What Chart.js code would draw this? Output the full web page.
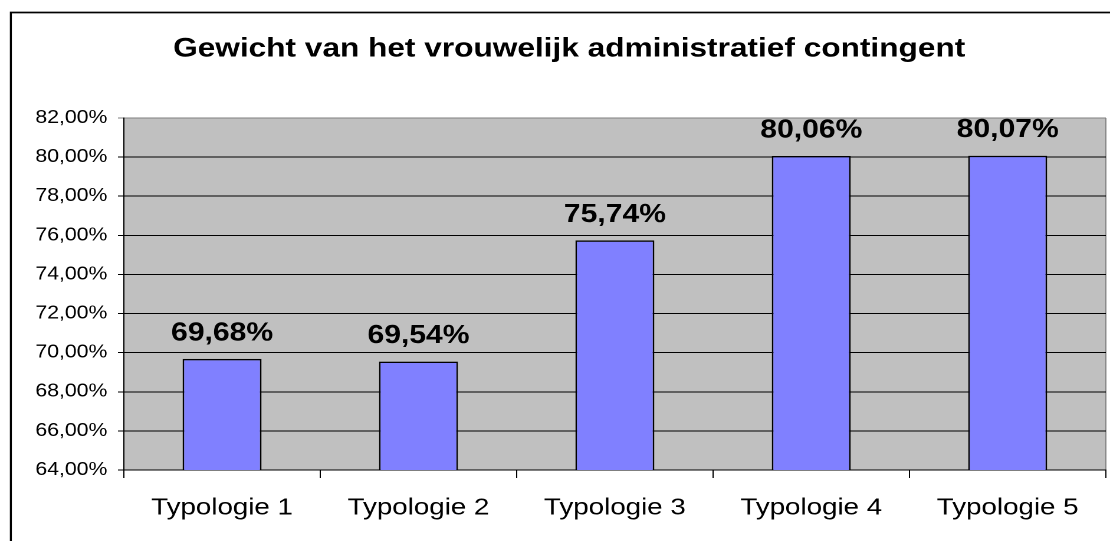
<!DOCTYPE html>
<html>
<head>
<meta charset="utf-8">
<title>Gewicht van het vrouwelijk administratief contingent</title>
<script src="https://cdn.jsdelivr.net/npm/chart.js@4/dist/chart.umd.min.js"></script>
<style>
    html, body { margin: 0; padding: 0; background: #fff; overflow: hidden; }
    /* the original picture is stretched sideways, so the canvas is too */
    #chart { display: block; width: 1110px; height: 541px; }
</style>
</head>
<body>
<canvas id="chart" width="941" height="541" style="width:1110px;height:541px"></canvas>
<script>
const chartTitle = 'Gewicht van het vrouwelijk administratief contingent';
const categories = ['Typologie 1', 'Typologie 2', 'Typologie 3', 'Typologie 4', 'Typologie 5'];
const shares = [69.68, 69.54, 75.74, 80.06, 80.07];
const yMin = 64;
const yMax = 82;
const yStep = 2;

const FONT = '"Liberation Sans", Arial, Helvetica, sans-serif';

function pct(v) {
    return v.toFixed(2).replace('.', ',') + '%';
}

// Frame, grey plot area, value labels and title
const decor = {
    id: 'decor',
    beforeDraw(chart) {
        const { ctx, chartArea: a } = chart;
        ctx.save();
        ctx.fillStyle = '#ffffff';
        ctx.fillRect(0, 0, chart.width, chart.height);
        ctx.strokeStyle = '#000000';
        ctx.lineWidth = 1.7;
        ctx.strokeRect(9.2, 12.5, chart.width + 20, chart.height + 20);
        ctx.fillStyle = '#c0c0c0';
        ctx.fillRect(a.left, a.top, a.right - a.left, a.bottom - a.top);
        ctx.strokeStyle = '#808080';
        ctx.lineWidth = 1;
        ctx.beginPath();
        ctx.moveTo(a.right, a.top);
        ctx.lineTo(a.right, a.bottom);
        ctx.stroke();
        ctx.restore();
    },
    afterDatasetsDraw(chart) {
        const { ctx } = chart;
        const meta = chart.getDatasetMeta(0);
        ctx.save();
        ctx.fillStyle = '#000000';
        ctx.font = 'bold 25.5px ' + FONT;
        ctx.textAlign = 'center';
        ctx.textBaseline = 'alphabetic';
        meta.data.forEach((bar, i) => {
            ctx.fillText(pct(shares[i]), bar.x, bar.y - 18.5);
        });
        ctx.restore();
    },
    afterDraw(chart) {
        const { ctx } = chart;
        ctx.save();
        ctx.fillStyle = '#000000';
        ctx.font = 'bold 26.8px ' + FONT;
        ctx.textAlign = 'center';
        ctx.textBaseline = 'middle';
        ctx.fillText(chartTitle, 482.5, 49);
        ctx.restore();
    }
};

new Chart(document.getElementById('chart'), {
    type: 'bar',
    data: {
        labels: categories,
        datasets: [{
            data: shares,
            backgroundColor: '#8080ff',
            borderColor: '#000000',
            borderWidth: 1.4,
            barPercentage: 0.402,
            categoryPercentage: 1
        }]
    },
    options: {
        responsive: false,
        devicePixelRatio: 2,
        animation: false,
        layout: { padding: { top: 118, left: 0, right: 3.5, bottom: 0 } },
        plugins: {
            legend: { display: false },
            title: { display: false },
            tooltip: { enabled: false }
        },
        scales: {
            x: {
                grid: {
                    drawOnChartArea: false,
                    drawTicks: true,
                    tickLength: 8,
                    color: '#000000',
                    offset: true
                },
                border: { color: '#000000', width: 1 },
                ticks: {
                    color: '#000000',
                    font: { family: FONT, size: 23.5 },
                    padding: 16,
                    maxRotation: 0
                },
                afterFit(scale) { scale.height = 71; }
            },
            y: {
                min: yMin,
                max: yMax,
                grid: {
                    color: ctx => (ctx.tick && ctx.tick.value === yMax ? '#808080' : '#000000'),
                    tickLength: 5
                },
                border: { color: '#000000', width: 1 },
                ticks: {
                    stepSize: yStep,
                    color: '#000000',
                    font: { family: FONT, size: 18 },
                    padding: 9,
                    callback: v => pct(v)
                },
                afterFit(scale) { scale.width = 105; }
            }
        }
    },
    plugins: [decor]
});
</script>
</body>
</html>
